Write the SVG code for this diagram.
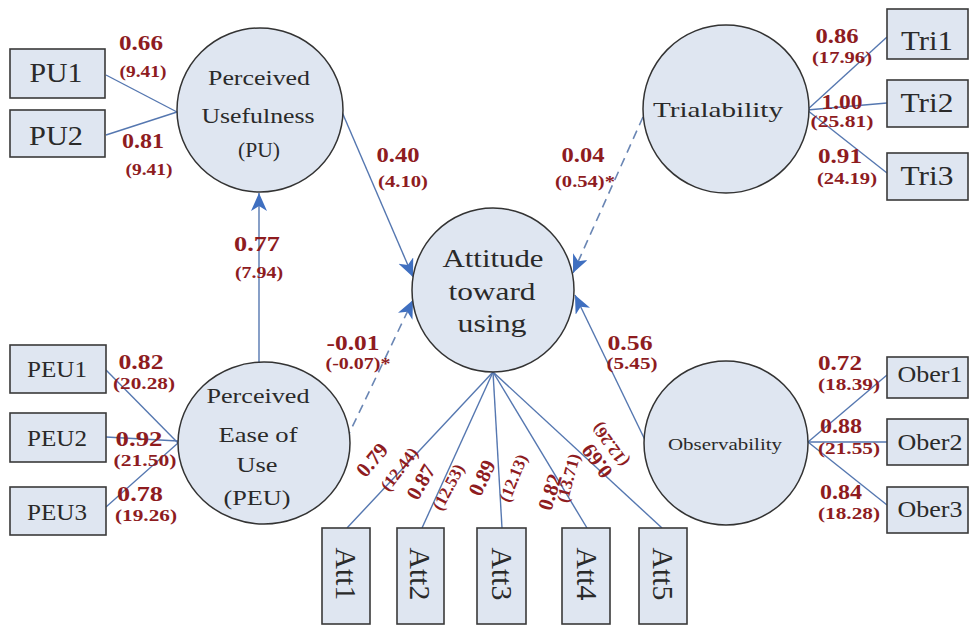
<svg xmlns="http://www.w3.org/2000/svg" width="972" height="626" viewBox="0 0 972 626">
<style>
.node{fill:#dfe6f1;stroke:#333;stroke-width:1.5}
.box{fill:#dfe6f1;stroke:#3a3a3a;stroke-width:1.6}
.nt{font-family:"Liberation Serif","Times New Roman",serif;fill:#2a2a2a;text-anchor:middle}
.ln{stroke:#5577b0;stroke-width:1.4;fill:none}
.dash{stroke:#6a86b4;stroke-width:1.6;fill:none;stroke-dasharray:9 6}
.c{font-family:"Liberation Serif","Times New Roman",serif;font-weight:bold;fill:#8e1c1f;text-anchor:middle;font-size:20px}
.t{font-family:"Liberation Serif","Times New Roman",serif;font-weight:bold;fill:#8e1c1f;text-anchor:middle;font-size:16px}
.rc{font-size:21px}
.rt{font-size:17px}
</style>
<defs>
<marker id="arr" markerUnits="userSpaceOnUse" markerWidth="20" markerHeight="18" refX="18" refY="8" orient="auto">
<path d="M0,0 L18,8 L0,16 L5,8 Z" fill="#3f6fc0"/>
</marker>
</defs>
<rect width="972" height="626" fill="#fff"/>

<g id="connectors">
<line class="ln" x1="106" y1="75" x2="177" y2="112"/>
<line class="ln" x1="106" y1="135" x2="177" y2="112"/>
<line class="ln" x1="106" y1="370" x2="178" y2="443"/>
<line class="ln" x1="106" y1="437" x2="178" y2="441"/>
<line class="ln" x1="106" y1="507" x2="178" y2="443"/>
<line class="ln" x1="807" y1="110" x2="887" y2="37"/>
<line class="ln" x1="807" y1="110" x2="887" y2="103"/>
<line class="ln" x1="807" y1="110" x2="887" y2="173"/>
<line class="ln" x1="808" y1="442" x2="887" y2="375"/>
<line class="ln" x1="808" y1="442" x2="887" y2="442"/>
<line class="ln" x1="808" y1="442" x2="887" y2="505"/>
<line class="ln" x1="493" y1="372" x2="347" y2="528"/>
<line class="ln" x1="493" y1="372" x2="422" y2="528"/>
<line class="ln" x1="493" y1="372" x2="502" y2="528"/>
<line class="ln" x1="493" y1="372" x2="587" y2="528"/>
<line class="ln" x1="493" y1="372" x2="662" y2="528"/>
<line class="ln" x1="259" y1="362" x2="259" y2="193" marker-end="url(#arr)"/>
<line class="ln" x1="342" y1="112" x2="413" y2="277" marker-end="url(#arr)"/>
<line class="dash" x1="643" y1="117" x2="573" y2="273" marker-end="url(#arr)"/>
<line class="dash" x1="346" y1="440" x2="413" y2="300" marker-end="url(#arr)"/>
<line class="ln" x1="645" y1="440" x2="575" y2="295" marker-end="url(#arr)"/>
</g>

<g id="PU">
<ellipse class="node" cx="260" cy="110" rx="83" ry="82"/>
<text class="nt" x="259" y="85" font-size="21" textLength="102" lengthAdjust="spacingAndGlyphs">Perceived</text>
<text class="nt" x="258" y="123" font-size="21" textLength="113" lengthAdjust="spacingAndGlyphs">Usefulness</text>
<text class="nt" x="259" y="157" font-size="21" textLength="42" lengthAdjust="spacingAndGlyphs">(PU)</text>
</g>
<g id="PEU">
<ellipse class="node" cx="264" cy="443" rx="86" ry="81"/>
<text class="nt" x="258" y="403" font-size="21" textLength="103" lengthAdjust="spacingAndGlyphs">Perceived</text>
<text class="nt" x="258" y="442" font-size="21" textLength="79" lengthAdjust="spacingAndGlyphs">Ease of</text>
<text class="nt" x="257" y="472" font-size="21" textLength="41" lengthAdjust="spacingAndGlyphs">Use</text>
<text class="nt" x="257" y="505" font-size="21" textLength="67" lengthAdjust="spacingAndGlyphs">(PEU)</text>
</g>
<g id="ATT">
<ellipse class="node" cx="493" cy="290" rx="81" ry="82"/>
<text class="nt" x="493" y="267" font-size="26" textLength="101" lengthAdjust="spacingAndGlyphs">Attitude</text>
<text class="nt" x="492" y="300" font-size="26" textLength="87" lengthAdjust="spacingAndGlyphs">toward</text>
<text class="nt" x="492" y="332" font-size="26" textLength="69" lengthAdjust="spacingAndGlyphs">using</text>
</g>
<g id="TRI">
<ellipse class="node" cx="726" cy="109" rx="83" ry="84"/>
<text class="nt" x="718" y="117" font-size="22" textLength="130" lengthAdjust="spacingAndGlyphs">Trialability</text>
</g>
<g id="OBS">
<ellipse class="node" cx="726" cy="443" rx="82" ry="82"/>
<text class="nt" x="725" y="450" font-size="17" textLength="114" lengthAdjust="spacingAndGlyphs">Observability</text>
</g>

<g id="PU1"><rect class="box" x="10" y="49" width="95" height="49"/><text class="nt" x="56" y="82" font-size="28" textLength="53" lengthAdjust="spacingAndGlyphs">PU1</text></g>
<g id="PU2"><rect class="box" x="10" y="110" width="95" height="47"/><text class="nt" x="56" y="145" font-size="28" textLength="54" lengthAdjust="spacingAndGlyphs">PU2</text></g>
<g id="PEU1"><rect class="box" x="10" y="345" width="96" height="48"/><text class="nt" x="57" y="377" font-size="24" textLength="60" lengthAdjust="spacingAndGlyphs">PEU1</text></g>
<g id="PEU2"><rect class="box" x="10" y="413" width="96" height="49"/><text class="nt" x="57" y="446" font-size="24" textLength="60" lengthAdjust="spacingAndGlyphs">PEU2</text></g>
<g id="PEU3"><rect class="box" x="10" y="487" width="96" height="48"/><text class="nt" x="57" y="520" font-size="24" textLength="60" lengthAdjust="spacingAndGlyphs">PEU3</text></g>
<g id="Tri1"><rect class="box" x="887" y="9" width="81" height="50"/><text class="nt" x="927" y="50" font-size="27" textLength="52" lengthAdjust="spacingAndGlyphs">Tri1</text></g>
<g id="Tri2"><rect class="box" x="887" y="80" width="81" height="47"/><text class="nt" x="927" y="112" font-size="27" textLength="53" lengthAdjust="spacingAndGlyphs">Tri2</text></g>
<g id="Tri3"><rect class="box" x="887" y="153" width="81" height="47"/><text class="nt" x="927" y="185" font-size="27" textLength="53" lengthAdjust="spacingAndGlyphs">Tri3</text></g>
<g id="Ober1"><rect class="box" x="887" y="357" width="81" height="41"/><text class="nt" x="930" y="382" font-size="24" textLength="65" lengthAdjust="spacingAndGlyphs">Ober1</text></g>
<g id="Ober2"><rect class="box" x="887" y="419" width="81" height="46"/><text class="nt" x="930" y="450" font-size="24" textLength="65" lengthAdjust="spacingAndGlyphs">Ober2</text></g>
<g id="Ober3"><rect class="box" x="887" y="487" width="81" height="46"/><text class="nt" x="930" y="517" font-size="24" textLength="65" lengthAdjust="spacingAndGlyphs">Ober3</text></g>
<g id="Att1"><rect class="box" x="322" y="528" width="48" height="96"/><text class="nt" font-size="30" transform="translate(346,574) rotate(90)" x="0" y="10" textLength="53" lengthAdjust="spacingAndGlyphs">Att1</text></g>
<g id="Att2"><rect class="box" x="397" y="528" width="47" height="96"/><text class="nt" font-size="30" transform="translate(420,574) rotate(90)" x="0" y="10" textLength="53" lengthAdjust="spacingAndGlyphs">Att2</text></g>
<g id="Att3"><rect class="box" x="477" y="528" width="49" height="96"/><text class="nt" font-size="30" transform="translate(502,574) rotate(90)" x="0" y="10" textLength="53" lengthAdjust="spacingAndGlyphs">Att3</text></g>
<g id="Att4"><rect class="box" x="562" y="528" width="48" height="96"/><text class="nt" font-size="30" transform="translate(587,574) rotate(90)" x="0" y="10" textLength="53" lengthAdjust="spacingAndGlyphs">Att4</text></g>
<g id="Att5"><rect class="box" x="639" y="528" width="48" height="96"/><text class="nt" font-size="30" transform="translate(663,574) rotate(90)" x="0" y="10" textLength="53" lengthAdjust="spacingAndGlyphs">Att5</text></g>

<g id="labels">
<text class="c" x="141" y="50" textLength="44" lengthAdjust="spacingAndGlyphs">0.66</text>
<text class="t" x="143" y="77" textLength="47" lengthAdjust="spacingAndGlyphs">(9.41)</text>
<text class="c" x="143" y="148" textLength="42" lengthAdjust="spacingAndGlyphs">0.81</text>
<text class="t" x="149" y="175" textLength="47" lengthAdjust="spacingAndGlyphs">(9.41)</text>
<text class="c" x="257" y="251" textLength="46" lengthAdjust="spacingAndGlyphs">0.77</text>
<text class="t" x="259" y="278" textLength="48" lengthAdjust="spacingAndGlyphs">(7.94)</text>
<text class="c" x="398" y="162" textLength="43" lengthAdjust="spacingAndGlyphs">0.40</text>
<text class="t" x="403" y="187" textLength="50" lengthAdjust="spacingAndGlyphs">(4.10)</text>
<text class="c" x="583" y="162" textLength="43" lengthAdjust="spacingAndGlyphs">0.04</text>
<text class="t" x="585" y="187" textLength="60" lengthAdjust="spacingAndGlyphs">(0.54)*</text>
<text class="c" x="353" y="350" textLength="53" lengthAdjust="spacingAndGlyphs">-0.01</text>
<text class="t" x="358" y="369" textLength="65" lengthAdjust="spacingAndGlyphs">(-0.07)*</text>
<text class="c" x="630" y="350" textLength="45" lengthAdjust="spacingAndGlyphs">0.56</text>
<text class="t" x="632" y="369" textLength="51" lengthAdjust="spacingAndGlyphs">(5.45)</text>
<text class="c" x="837" y="43" textLength="43" lengthAdjust="spacingAndGlyphs">0.86</text>
<text class="t" x="842" y="63" textLength="60" lengthAdjust="spacingAndGlyphs">(17.96)</text>
<text class="c" x="842" y="109" textLength="41" lengthAdjust="spacingAndGlyphs">1.00</text>
<text class="t" x="842" y="127" textLength="63" lengthAdjust="spacingAndGlyphs">(25.81)</text>
<text class="c" x="840" y="163" textLength="44" lengthAdjust="spacingAndGlyphs">0.91</text>
<text class="t" x="847" y="184" textLength="60" lengthAdjust="spacingAndGlyphs">(24.19)</text>
<text class="c" x="141" y="369" textLength="45" lengthAdjust="spacingAndGlyphs">0.82</text>
<text class="t" x="144" y="389" textLength="62" lengthAdjust="spacingAndGlyphs">(20.28)</text>
<text class="c" x="139" y="446" textLength="47" lengthAdjust="spacingAndGlyphs">0.92</text>
<text class="t" x="145" y="466" textLength="63" lengthAdjust="spacingAndGlyphs">(21.50)</text>
<text class="c" x="140" y="501" textLength="46" lengthAdjust="spacingAndGlyphs">0.78</text>
<text class="t" x="146" y="521" textLength="62" lengthAdjust="spacingAndGlyphs">(19.26)</text>
<text class="c" x="840" y="370" textLength="44" lengthAdjust="spacingAndGlyphs">0.72</text>
<text class="t" x="849" y="390" textLength="62" lengthAdjust="spacingAndGlyphs">(18.39)</text>
<text class="c" x="841" y="433" textLength="42" lengthAdjust="spacingAndGlyphs">0.88</text>
<text class="t" x="849" y="454" textLength="62" lengthAdjust="spacingAndGlyphs">(21.55)</text>
<text class="c" x="841" y="499" textLength="42" lengthAdjust="spacingAndGlyphs">0.84</text>
<text class="t" x="849" y="519" textLength="62" lengthAdjust="spacingAndGlyphs">(18.28)</text>
<text class="c rc" transform="translate(372,460) rotate(-50)" x="0" y="7">0.79</text>
<text class="t rt" transform="translate(399,469) rotate(-52)" x="0" y="6">(12.44)</text>
<text class="c rc" transform="translate(421,482) rotate(-60)" x="0" y="7">0.87</text>
<text class="t rt" transform="translate(448,487) rotate(-62)" x="0" y="6">(12.53)</text>
<text class="c rc" transform="translate(482,478) rotate(-65)" x="0" y="7">0.89</text>
<text class="t rt" transform="translate(513,478) rotate(-68)" x="0" y="6">(12.13)</text>
<text class="c rc" transform="translate(550,492) rotate(-72)" x="0" y="7">0.82</text>
<text class="t rt" transform="translate(568,478) rotate(-75)" x="0" y="6">(13.71)</text>
<text class="c rc" transform="translate(597,461) rotate(-126)" x="0" y="7">0.69</text>
<text class="t rt" transform="translate(610,445) rotate(-126)" x="0" y="6">(12.26)</text>
</g>
</svg>
